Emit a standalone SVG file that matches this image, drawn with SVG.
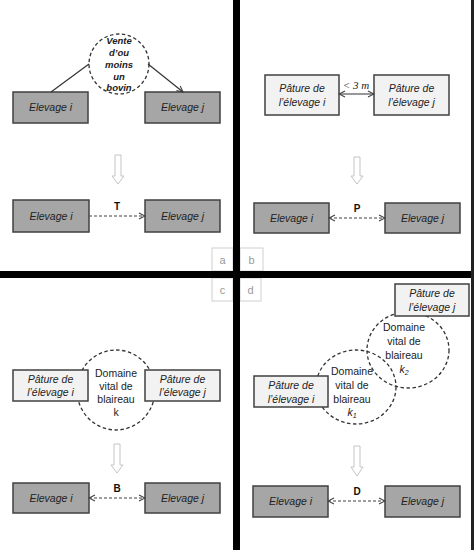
<svg xmlns="http://www.w3.org/2000/svg" width="474" height="550" viewBox="0 0 474 550">
<defs>
<marker id="ah" viewBox="0 0 8 8" refX="7" refY="4" markerWidth="8" markerHeight="8" markerUnits="userSpaceOnUse" orient="auto-start-reverse">
<path d="M1,1 L7,4 L1,7" fill="none" stroke="#404040" stroke-width="1.1"/>
</marker>
<style>
.dk{fill:#a6a6a6;stroke:#404040;stroke-width:1.5}
.lt{fill:#f2f2f2;stroke:#404040;stroke-width:1.5}
.bt{font-family:"Liberation Sans",Arial,sans-serif;font-style:italic;font-size:10.5px;fill:#222;text-anchor:middle}
.ct{font-family:"Liberation Sans",Arial,sans-serif;font-size:10.5px;fill:#222;text-anchor:middle}
.lb{font-family:"Liberation Sans",Arial,sans-serif;font-weight:bold;font-size:10px;fill:#111;text-anchor:middle}
.ci{fill:none;stroke:#333;stroke-width:1.3;stroke-dasharray:3.5,2.5}
.sl{stroke:#333;stroke-width:1.2;fill:none}
.ds{stroke:#404040;stroke-width:1.2;fill:none;stroke-dasharray:3,2}
.ha{fill:#fff;stroke:#c4c4c4;stroke-width:1}
.tag{fill:#fff;stroke:#d0d0d0;stroke-width:1}
.tt{font-family:"Liberation Sans",Arial,sans-serif;font-size:11px;fill:#9a9a9a;text-anchor:middle}
</style>
</defs>
<rect width="474" height="550" fill="#fff"/>

<!-- panel a -->
<g id="a-circle">
<circle cx="119" cy="64" r="30" fill="#fff" class="ci"/>
<text class="bt" font-weight="bold" font-size="9.5" style="font-size:9.5px;font-weight:bold"><tspan x="119" y="44">Vente</tspan><tspan x="119" y="56">d’ou</tspan><tspan x="119" y="68">moins</tspan><tspan x="119" y="80">un</tspan><tspan x="119" y="91">bovin</tspan></text>
</g>
<g id="a-elev-i-top"><rect class="dk" x="13" y="92" width="75" height="31"/><text class="bt" x="50.5" y="111">Elevage i</text></g>
<g id="a-elev-j-top"><rect class="dk" x="145" y="92" width="75" height="31"/><text class="bt" x="182.5" y="111">Elevage j</text></g>
<g id="a-down"><path class="ha" d="M115,155 H121 V176 H124 L118,184 L112,176 H115 Z"/></g>
<g id="a-elev-i"><rect class="dk" x="13" y="200" width="76" height="32"/><text class="bt" x="51" y="220">Elevage i</text></g>
<g id="a-elev-j"><rect class="dk" x="145" y="200" width="75" height="32"/><text class="bt" x="182.5" y="220">Elevage j</text></g>

<!-- panel b -->
<g id="b-pat-i"><rect class="lt" x="265" y="75" width="74" height="40"/><text class="bt"><tspan x="302" y="92">Pâture de</tspan><tspan x="302" y="106">l’élevage i</tspan></text></g>
<g id="b-pat-j"><rect class="lt" x="374" y="75" width="75" height="40"/><text class="bt"><tspan x="411.5" y="92">Pâture de</tspan><tspan x="411.5" y="106">l’élevage j</tspan></text></g>
<g id="b-down"><path class="ha" d="M354,157 H360 V176 H363 L357,184 L351,176 H354 Z"/></g>
<g id="b-elev-i"><rect class="dk" x="254" y="203" width="75" height="30"/><text class="bt" x="291.5" y="222">Elevage i</text></g>
<g id="b-elev-j"><rect class="dk" x="385" y="203" width="75" height="30"/><text class="bt" x="422.5" y="222">Elevage j</text></g>

<!-- panel c -->
<g id="c-circle">
<ellipse class="ci" cx="116" cy="390" rx="39" ry="40" fill="#fff"/>
<text class="ct"><tspan x="116" y="377">Domaine</tspan><tspan x="116" y="390">vital de</tspan><tspan x="116" y="403">blaireau</tspan><tspan x="116" y="416">k</tspan></text>
</g>
<g id="c-pat-i"><rect class="lt" x="13" y="370" width="75" height="31"/><text class="bt"><tspan x="50.5" y="383">Pâture de</tspan><tspan x="50.5" y="396">l’élevage i</tspan></text></g>
<g id="c-pat-j"><rect class="lt" x="145" y="370" width="75" height="31"/><text class="bt"><tspan x="182.5" y="383">Pâture de</tspan><tspan x="182.5" y="396">l’élevage j</tspan></text></g>
<g id="c-down"><path class="ha" d="M114,444 H120 V465 H123 L117,473 L111,465 H114 Z"/></g>
<g id="c-elev-i"><rect class="dk" x="13" y="483" width="76" height="30"/><text class="bt" x="51" y="502">Elevage i</text></g>
<g id="c-elev-j"><rect class="dk" x="145" y="483" width="75" height="30"/><text class="bt" x="182.5" y="502">Elevage j</text></g>

<!-- panel d -->
<g id="d-circle-k2">
<ellipse class="ci" cx="408" cy="350" rx="41" ry="38"/>
<text class="ct"><tspan x="404" y="331">Domaine</tspan><tspan x="404" y="345">vital de</tspan><tspan x="404" y="359">blaireau</tspan><tspan x="404" y="373" font-style="italic">k<tspan font-size="7" dy="2">2</tspan></tspan></text>
</g>
<g id="d-circle-k1">
<ellipse class="ci" cx="356" cy="387" rx="40" ry="37"/>
<text class="ct"><tspan x="352" y="375">Domaine</tspan><tspan x="352" y="389">vital de</tspan><tspan x="352" y="403">blaireau</tspan><tspan x="352" y="416" font-style="italic">k<tspan font-size="7" dy="2">1</tspan></tspan></text>
</g>
<g id="d-pat-j"><rect class="lt" x="395" y="284" width="74" height="32"/><text class="bt"><tspan x="432" y="297">Pâture de</tspan><tspan x="432" y="311">l’élevage j</tspan></text></g>
<g id="d-pat-i"><rect class="lt" x="254" y="376" width="74" height="31"/><text class="bt"><tspan x="291" y="389">Pâture de</tspan><tspan x="291" y="403">l’élevage i</tspan></text></g>
<g id="d-down"><path class="ha" d="M354,446 H360 V467 H363 L357,476 L351,467 H354 Z"/></g>
<g id="d-elev-i"><rect class="dk" x="253" y="486" width="75" height="31"/><text class="bt" x="290.5" y="505">Elevage i</text></g>
<g id="d-elev-j"><rect class="dk" x="385" y="486" width="75" height="31"/><text class="bt" x="422.5" y="505">Elevage j</text></g>

<!-- connectors -->
<g id="connectors">
<line class="sl" x1="51" y1="92" x2="89" y2="64"/>
<line class="sl" x1="148" y1="64" x2="183" y2="92" marker-end="url(#ah)"/>
<line class="ds" x1="89" y1="216" x2="145" y2="216" marker-end="url(#ah)"/>
<text class="lb" x="117" y="210">T</text>
<line class="sl" x1="339" y1="94" x2="374" y2="94" marker-start="url(#ah)" marker-end="url(#ah)"/>
<text x="356" y="89" font-family="'Liberation Serif',serif" font-style="italic" font-size="11" text-anchor="middle" fill="#222">&lt; 3 m</text>
<line class="ds" x1="329" y1="218" x2="385" y2="218" marker-start="url(#ah)" marker-end="url(#ah)"/>
<text class="lb" x="357" y="212">P</text>
<line class="ds" x1="89" y1="498" x2="145" y2="498" marker-start="url(#ah)" marker-end="url(#ah)"/>
<text class="lb" x="117" y="492">B</text>
<line class="ds" x1="328" y1="501" x2="385" y2="501" marker-start="url(#ah)" marker-end="url(#ah)"/>
<text class="lb" x="357" y="495">D</text>
</g>

<!-- dividers and tags -->
<g id="tags">
<rect class="tag" x="212" y="248" width="21" height="23"/><text class="tt" x="222.5" y="264">a</text>
<rect class="tag" x="240" y="248" width="23" height="23"/><text class="tt" x="251.5" y="264">b</text>
<rect class="tag" x="212" y="278" width="21" height="23"/><text class="tt" x="222.5" y="294">c</text>
<rect class="tag" x="240" y="278" width="21" height="23"/><text class="tt" x="250.5" y="294">d</text>
</g>
<rect x="233" y="0" width="7" height="550" fill="#000"/>
<rect x="0" y="271" width="474" height="7" fill="#000"/>
<rect x="471" y="0" width="3" height="550" fill="#222"/>
</svg>
